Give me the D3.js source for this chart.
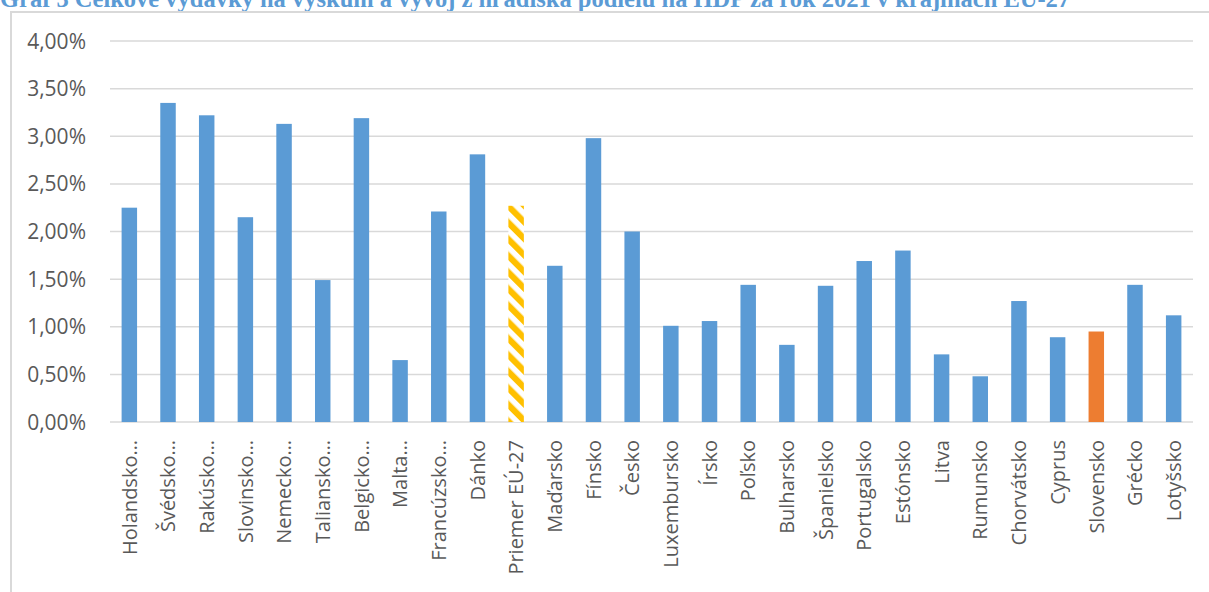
<!DOCTYPE html>
<html>
<head>
<meta charset="utf-8">
<script src="https://cdn.jsdelivr.net/npm/d3@7"></script>
<style>
  html, body { margin: 0; padding: 0; background: #fff; }
  svg { display: block; }
</style>
</head>
<body>
<svg id="chart" width="1209" height="592"></svg>
<script>
// Podiel výdavkov na VaV na HDP (%), rok 2021
const countries = [
  "Holandsko…", "Švédsko…", "Rakúsko…", "Slovinsko…", "Nemecko…", "Taliansko…",
  "Belgicko…", "Malta…", "Francúzsko…", "Dánko", "Priemer EÚ-27", "Maďarsko",
  "Fínsko", "Česko", "Luxembursko", "Írsko", "Poľsko", "Bulharsko", "Španielsko",
  "Portugalsko", "Estónsko", "Litva", "Rumunsko", "Chorvátsko", "Cyprus",
  "Slovensko", "Grécko", "Lotyšsko"
];
const shares = [
  2.25, 3.35, 3.22, 2.15, 3.13, 1.49,
  3.19, 0.65, 2.21, 2.81, 2.27, 1.64,
  2.98, 2.00, 1.01, 1.06, 1.44, 0.81, 1.43,
  1.69, 1.80, 0.71, 0.48, 1.27, 0.89,
  0.95, 1.44, 1.12
];
const yTicks = [0, 0.5, 1, 1.5, 2, 2.5, 3, 3.5, 4];
const averageLabel = "Priemer EÚ-27";
const homeLabel = "Slovensko";
const titleText = "Graf 3 Celkové výdavky na výskum a vývoj z hľadiska podielu na HDP za rok 2021 v krajinách EÚ-27";

const svg = d3.select("#chart");
const W = 1209, H = 592;

// Title
svg.append("text")
  .attr("x", 0).attr("y", 7)
  .attr("font-family", "'Liberation Serif', 'Times New Roman', serif")
  .attr("font-weight", "bold")
  .attr("font-size", 24.5)
  .attr("fill", "#5B9BD5")
  .text(titleText);

// Chart frame
svg.append("rect")
  .attr("x", 11).attr("y", 12)
  .attr("width", W + 10).attr("height", H + 10)
  .attr("fill", "none")
  .attr("stroke", "#d9d9d9")
  .attr("stroke-width", 2);

// Diagonal hatch for the EU average
const defs = svg.append("defs");
const pat = defs.append("pattern")
  .attr("id", "hatch")
  .attr("patternUnits", "userSpaceOnUse")
  .attr("width", 11.7).attr("height", 11.7)
  .attr("patternTransform", "rotate(-45)");
pat.append("rect").attr("width", 11.7).attr("height", 11.7).attr("fill", "#fff");
pat.append("rect").attr("x", 0).attr("width", 6.2).attr("height", 11.7).attr("fill", "#FFC000");

const x = d3.scaleBand()
  .domain(countries)
  .range([110, 1193])
  .paddingInner(0.6)
  .paddingOuter(0.3);

const y = d3.scaleLinear().domain([0, 4]).range([422, 41]);

// Gridlines
svg.append("g")
  .selectAll("line")
  .data(yTicks)
  .join("line")
  .attr("x1", 110).attr("x2", 1193)
  .attr("y1", d => y(d)).attr("y2", d => y(d))
  .attr("stroke", "#d9d9d9")
  .attr("stroke-width", 1.5);

// Y axis labels
const fmt = d => d.toFixed(2).replace(".", ",") + "%";
svg.append("g")
  .selectAll("text")
  .data(yTicks)
  .join("text")
  .attr("x", 86)
  .attr("y", d => y(d))
  .attr("dy", "0.36em")
  .attr("text-anchor", "end")
  .attr("font-family", "'Open Sans', sans-serif")
  .attr("font-size", 21)
  .attr("fill", "#595959")
  .text(fmt);

// Bars
const data = countries.map((c, i) => ({ c, v: shares[i] }));
svg.append("g")
  .selectAll("rect")
  .data(data)
  .join("rect")
  .attr("x", d => x(d.c))
  .attr("width", x.bandwidth())
  .attr("y", d => y(d.v))
  .attr("height", d => y(0) - y(d.v))
  .attr("fill", d => d.c === averageLabel ? "url(#hatch)" : d.c === homeLabel ? "#ED7D31" : "#5B9BD5");

// Category labels (rotated)
svg.append("g")
  .selectAll("text")
  .data(countries)
  .join("text")
  .attr("transform", d => `translate(${x(d) + x.bandwidth() / 2},440) rotate(-90)`)
  .attr("dy", "0.36em")
  .attr("text-anchor", "end")
  .attr("font-family", "'Open Sans', sans-serif")
  .attr("font-size", 20)
  .attr("fill", "#595959")
  .text(d => d);
</script>
</body>
</html>
